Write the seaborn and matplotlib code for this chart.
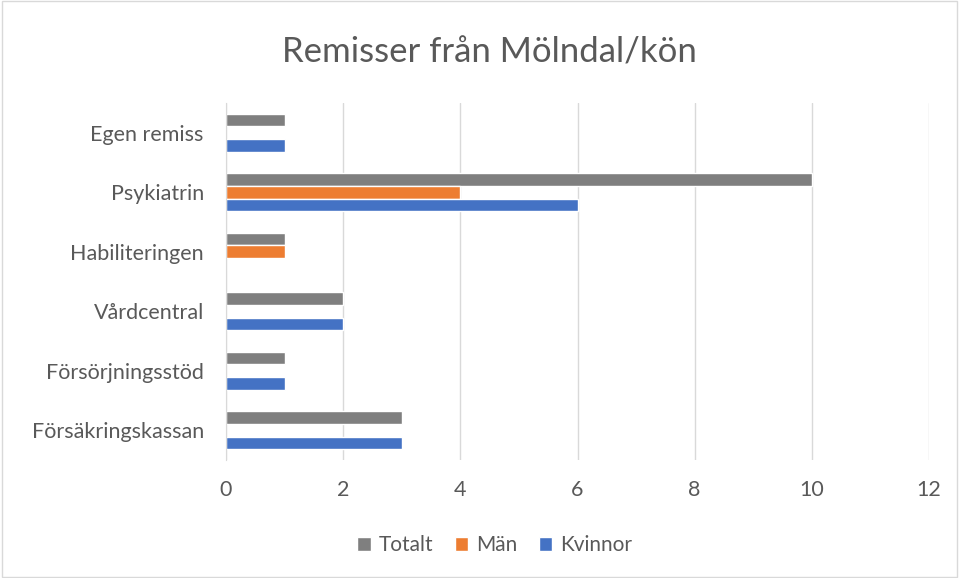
import matplotlib
matplotlib.use('Agg')
import matplotlib.pyplot as plt
import pandas as pd
import seaborn as sns
from matplotlib.patches import Rectangle

categories = ['Egen remiss', 'Psykiatrin', 'Habiliteringen', 'Vårdcentral',
              'Försörjningsstöd', 'Försäkringskassan']
totalt = [1, 10, 1, 2, 1, 3]
man = [0, 4, 1, 0, 0, 0]
kvinnor = [1, 6, 0, 2, 1, 3]
series = ['Totalt', 'Män', 'Kvinnor']
colors = ['#7f7f7f', '#ed7d31', '#4472c4']
xticks = [0, 2, 4, 6, 8, 10, 12]

df = pd.DataFrame({
    'Kategori': categories * 3,
    'Serie': ['Totalt'] * 6 + ['Män'] * 6 + ['Kvinnor'] * 6,
    'Antal': totalt + man + kvinnor,
})

sns.set_style('white')
plt.rcParams['font.family'] = ['Lato', 'DejaVu Sans']
text_color = '#595959'

fig = plt.figure(figsize=(9.59, 5.78), dpi=100)
ax = fig.add_axes([0.2357, 0.204, 0.733, 0.618])

sns.barplot(data=df, y='Kategori', x='Antal', hue='Serie', order=categories,
            hue_order=series, palette=colors, orient='h', width=0.64, gap=0,
            saturation=1, ax=ax, legend=True)

ax.set_xlim(0, 12)
ax.set_xticks(xticks)
ax.set_xlabel('')
ax.set_ylabel('')
ax.xaxis.grid(True, color='#d9d9d9', linewidth=1)
ax.set_axisbelow(True)
for s in ['top', 'right', 'bottom']:
    ax.spines[s].set_visible(False)
ax.spines['left'].set_color('#d9d9d9')
ax.tick_params(axis='both', length=0, labelsize=15.5, colors=text_color)
ax.tick_params(axis='y', pad=16)
ax.tick_params(axis='x', pad=14)

handles, labels = ax.get_legend_handles_labels()
ax.get_legend().remove()
fig.legend(handles, labels, loc='center', bbox_to_anchor=(0.516, 0.057), ncol=3,
           frameon=False, fontsize=15, labelcolor=text_color, handlelength=0.65,
           handleheight=0.65, columnspacing=1.0, handletextpad=0.4)

fig.text(0.51, 0.91, 'Remisser från Mölndal/kön', ha='center', va='center',
         fontsize=25, color=text_color)

fig.patches.append(Rectangle((0.002, 0.002), 0.996, 0.996, transform=fig.transFigure,
                             fill=False, edgecolor='#d9d9d9', linewidth=1))

fig.savefig('out.png', dpi=100)
